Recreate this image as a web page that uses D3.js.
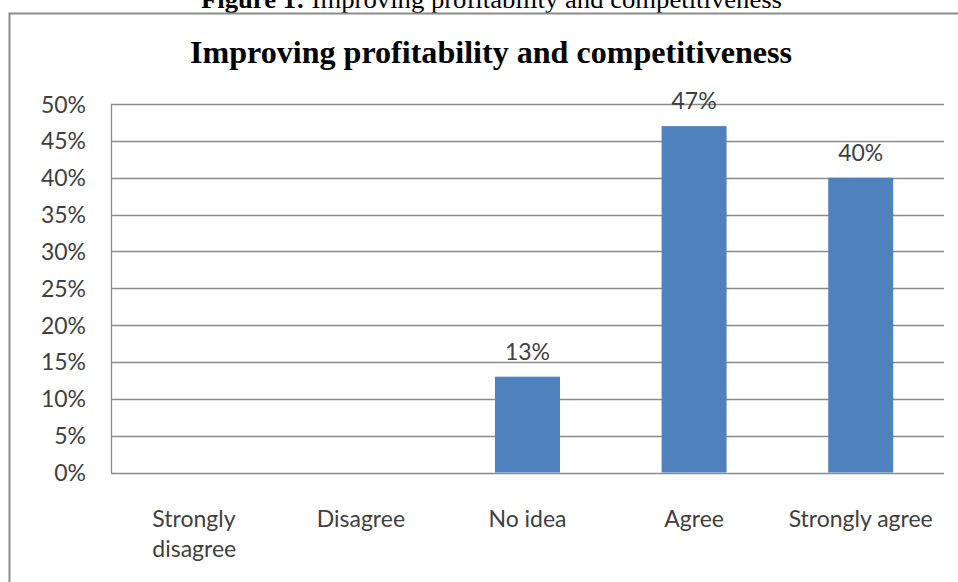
<!DOCTYPE html>
<html>
<head>
<meta charset="utf-8">
<script src="https://cdn.jsdelivr.net/npm/d3@7"></script>
<style>
  html, body { margin: 0; padding: 0; background: #fff; }
  svg { display: block; }
  .tick-label, .cat-label, .bar-label { font-family: Lato, "Open Sans", sans-serif; fill: #404040; }
</style>
</head>
<body>
<div id="chart"></div>
<script>
  // chart data
  const caption = "Figure 1: Improving profitability and competitiveness";
  const title = "Improving profitability and competitiveness";
  const categories = ["Strongly disagree", "Disagree", "No idea", "Agree", "Strongly agree"];
  const values = [0, 0, 13, 47, 40];
  const barLabels = [null, null, "13%", "47%", "40%"];
  const yTicks = [0, 5, 10, 15, 20, 25, 30, 35, 40, 45, 50];

  const width = 958, height = 582;
  const margin = { left: 111, right: 15, top: 104, bottom: 110 };

  const svg = d3.select("#chart")
    .append("svg")
    .attr("width", width)
    .attr("height", height);

  // figure caption, cut off at the top of the page
  const cap = svg.append("text")
    .attr("x", 201)
    .attr("y", 8)
    .attr("font-family", "Liberation Serif, Times New Roman, serif")
    .attr("font-size", 25)
    .attr("fill", "#000")
    .attr("textLength", 581)
    .attr("lengthAdjust", "spacingAndGlyphs");
  cap.append("tspan").attr("font-weight", "bold").text(caption.slice(0, 9));
  cap.append("tspan").text(caption.slice(9));

  // chart frame (runs off the right and bottom edges)
  svg.append("rect")
    .attr("x", 9.5)
    .attr("y", 13.5)
    .attr("width", width + 20)
    .attr("height", height + 20)
    .attr("fill", "#fff")
    .attr("stroke", "#8c8c8c")
    .attr("stroke-width", 2);

  svg.append("text")
    .attr("x", 190)
    .attr("y", 63)
    .attr("font-family", "Liberation Serif, Times New Roman, serif")
    .attr("font-weight", "bold")
    .attr("font-size", 32)
    .attr("fill", "#000")
    .attr("textLength", 602)
    .attr("lengthAdjust", "spacingAndGlyphs")
    .text(title);

  const x = d3.scaleBand()
    .domain(categories)
    .range([margin.left, 944])
    .paddingInner(0.61)
    .paddingOuter(0.305);

  const y = d3.scaleLinear()
    .domain([0, 50])
    .range([472.5, margin.top]);

  // gridlines
  svg.append("g")
    .selectAll("line.grid")
    .data(yTicks)
    .enter()
    .append("line")
    .classed("grid", true)
    .attr("x1", margin.left)
    .attr("x2", 944)
    .attr("y1", (d) => Math.round(y(d)) + 0.5)
    .attr("y2", (d) => Math.round(y(d)) + 0.5)
    .attr("stroke", "#8a8a8a")
    .attr("stroke-width", 1.3);

  // y axis line
  svg.append("line")
    .attr("x1", margin.left + 0.5)
    .attr("x2", margin.left + 0.5)
    .attr("y1", Math.round(y(50)) + 0.5)
    .attr("y2", Math.round(y(0)) + 0.5)
    .attr("stroke", "#8a8a8a")
    .attr("stroke-width", 1.3);

  // y tick labels
  svg.append("g")
    .selectAll("text.tick-label")
    .data(yTicks)
    .enter()
    .append("text")
    .classed("tick-label", true)
    .attr("x", 86)
    .attr("y", (d) => y(d) + 8.5)
    .attr("text-anchor", "end")
    .attr("font-size", 23)
    .text((d) => `${d}%`);

  // bars
  svg.append("g")
    .selectAll("rect.bar")
    .data(categories.map((c, i) => ({ c, v: values[i], label: barLabels[i] })))
    .enter()
    .append("rect")
    .classed("bar", true)
    .attr("x", (d) => x(d.c))
    .attr("width", x.bandwidth())
    .attr("y", (d) => y(d.v))
    .attr("height", (d) => y(0) - y(d.v))
    .attr("fill", "#4f81bd");

  // bar value labels
  svg.append("g")
    .selectAll("text.bar-label")
    .data(categories.map((c, i) => ({ c, v: values[i], label: barLabels[i] })).filter((d) => d.label))
    .enter()
    .append("text")
    .classed("bar-label", true)
    .attr("x", (d) => x(d.c) + x.bandwidth() / 2)
    .attr("y", (d) => y(d.v) - 17)
    .attr("text-anchor", "middle")
    .attr("font-size", 23)
    .text((d) => d.label);

  // category labels, wrapped to the band width
  const step = x.step();
  svg.append("g")
    .selectAll("text.cat-label")
    .data(categories)
    .enter()
    .append("text")
    .classed("cat-label", true)
    .attr("x", (d) => x(d) + x.bandwidth() / 2)
    .attr("y", 527)
    .attr("text-anchor", "middle")
    .attr("font-size", 23)
    .each(function (d) {
      let el = d3.select(this);
      el.text(d);
      if (this.getComputedTextLength() <= step) return;
      el.text(null);
      let words = d.split(" ");
      let lines = [], line = [];
      let probe = el.append("tspan");
      words.forEach((w) => {
        line.push(w);
        probe.text(line.join(" "));
        if (probe.node().getComputedTextLength() > step && line.length > 1) {
          line.pop();
          lines.push(line.join(" "));
          line = [w];
        }
      });
      lines.push(line.join(" "));
      probe.remove();
      // left-aligned block, as in the source
      let cx = x(d) + x.bandwidth() / 2;
      let tmp = el.append("tspan").text(lines.reduce((a, b) => (a.length > b.length ? a : b)));
      let w = tmp.node().getComputedTextLength();
      tmp.remove();
      el.attr("text-anchor", "start");
      lines.forEach((l, i) => {
        el.append("tspan")
          .attr("x", cx - w / 2)
          .attr("dy", i === 0 ? 0 : 30)
          .text(l);
      });
    });
</script>
</body>
</html>
